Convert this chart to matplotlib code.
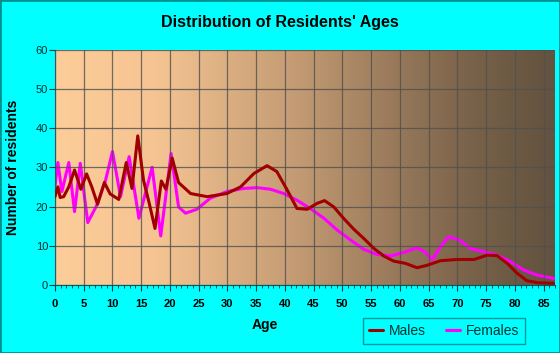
import matplotlib
matplotlib.use("Agg")
import matplotlib.pyplot as plt
import numpy as np
from matplotlib.colors import LinearSegmentedColormap
from matplotlib.patches import Rectangle

plt.rcParams['font.family'] = ['Liberation Sans', 'DejaVu Sans']

# ---- data ----
male_ages = [0, 0.5, 0.9, 1.5, 2.4, 3.4, 4.5, 5.5, 6.4, 7.4, 8.6, 9.6, 11.1, 12.4, 13.4,
             14.4, 15.4, 16.4, 17.4, 18.5, 19.3, 20.4, 21.5, 23.6, 26.5, 29.9, 32.3,
             34.6, 36.9, 38.6, 40.4, 42.1, 43.9, 45.6, 46.9, 48.5, 50.2, 52, 53.7,
             55.5, 57.2, 58.9, 61, 63, 64.7, 67.1, 70, 72.9, 75.2, 76.9, 78.7, 80.4,
             82.1, 83.9, 86.8]
male_vals = [22.5, 25, 22.3, 22.5, 25, 29.3, 24.4, 28.3, 25, 20.6, 26.1, 23.2, 21.8, 31.2,
             24.6, 38, 26.7, 20.8, 14.4, 26.5, 24.4, 32.3, 26.1, 23.3, 22.5, 23.3, 25,
             28.4, 30.4, 28.9, 24.2, 19.5, 19.3, 20.8, 21.5, 19.9, 17, 14.2, 11.9,
             9.3, 7.4, 6.1, 5.5, 4.4, 5, 6.2, 6.5, 6.5, 7.6, 7.5, 5.5, 3,
             1.1, 0.6, 0.4]

female_ages = [0, 0.5, 1.2, 2.4, 3.4, 4.4, 5.7, 7.3, 8.8, 10, 11.4, 12.9, 14.6, 16.9,
               18.4, 20.2, 21.5, 22.7, 24.7, 27, 29.9, 32.8, 35.2, 37.5, 39.8, 42.1,
               44.4, 46.8, 49.1, 51.4, 53.7, 56, 58.4, 60.7, 63, 64.5, 65.6, 67.1,
               68.5, 70.3, 72.3, 74.6, 76.9, 79.3, 81.6, 83.9, 86.8]
female_vals = [25, 31.2, 23.8, 31.2, 18.7, 31, 15.9, 20.4, 26.7, 34, 22.5, 32.7, 17, 30,
               12.5, 33.5, 19.9, 18.3, 19.3, 22.1, 23.8, 24.6, 24.8, 24.4, 23.3, 21.6,
               19.5, 17, 14, 11.5, 9.1, 7.8, 7.4, 8.3, 9.5, 8.3, 6.4, 9.8,
               12.3, 11.5, 9.3, 8.5, 7.6, 5.9, 3.8, 2.5, 1.7]

x_ticks = list(range(0, 90, 5))
y_ticks = list(range(0, 70, 10))

# ---- figure ----
fig = plt.figure(figsize=(5.6, 3.53), dpi=100, facecolor='#00FFFF')
ax = fig.add_axes([55/560, 1-285/353, (555-55)/560, (285-49.5)/353])
ax.set_xlim(0, 87)
ax.set_ylim(0, 60)

# gradient background
cmap = LinearSegmentedColormap.from_list('bg', [
    (0.0, (252/255, 204/255, 153/255)),
    (0.2, (245/255, 196/255, 146/255)),
    (0.5, (192/255, 152/255, 113/255)),
    (0.7, (148/255, 118/255, 88/255)),
    (0.85, (118/255, 96/255, 72/255)),
    (1.0, (98/255, 82/255, 63/255)),
])
grad = np.linspace(0, 1, 256).reshape(1, -1)
ax.imshow(grad, aspect='auto', cmap=cmap, extent=[0, 87, 0, 60], zorder=0)

ax.set_xticks(x_ticks)
ax.set_yticks(y_ticks)
ax.set_xticks(np.arange(0, 88, 1), minor=True)
ax.grid(True, which='major', color='#505050', linewidth=0.9, alpha=0.8, zorder=1)
ax.set_axisbelow(False)

ax.plot(male_ages, male_vals, color='#A00000', linewidth=2.2, zorder=3,
        solid_joinstyle='round', solid_capstyle='round', label='Males')
ax.plot(female_ages, female_vals, color='#FF00FF', linewidth=2.2, zorder=2,
        solid_joinstyle='round', solid_capstyle='round', label='Females')

for s in ['top', 'right']:
    ax.spines[s].set_visible(False)
ax.spines['left'].set_color('#006060')
ax.spines['bottom'].set_color('#006060')

ax.tick_params(axis='x', which='major', length=4, color='#004040', labelsize=8,
               labelcolor='black', pad=6)
ax.tick_params(axis='x', which='minor', length=2.5, color='#004040')
ax.tick_params(axis='y', which='major', length=4, color='#004040', labelsize=8,
               labelcolor='#003030', pad=1)
for lab in ax.get_xticklabels():
    lab.set_fontweight('bold')

fig.text(0.5, 1-22/353, "Distribution of Residents' Ages", ha='center', va='center',
         fontsize=11.5, fontweight='bold')
fig.text(265/560, 1-325/353, 'Age', ha='center', va='center', fontsize=10,
         fontweight='bold')
fig.text(13/560, 1-167/353, 'Number of residents', ha='center', va='center',
         fontsize=10, fontweight='bold', rotation=90)

leg = fig.legend(loc='center', bbox_to_anchor=(444/560, 1-331/353), ncol=2,
                 frameon=True, fancybox=False, fontsize=10, handlelength=1.0,
                 handletextpad=0.4, columnspacing=1.5, borderpad=0.4)
leg.get_frame().set_facecolor('#00FFFF')
leg.get_frame().set_edgecolor('#008080')
leg.get_frame().set_linewidth(1.0)
for t in leg.get_texts():
    t.set_color('#003333')

fig.patches.append(Rectangle((0, 0), 1, 1, transform=fig.transFigure, fill=False,
                             edgecolor='#009090', linewidth=2))

fig.savefig('out.png', dpi=100, facecolor=fig.get_facecolor())
